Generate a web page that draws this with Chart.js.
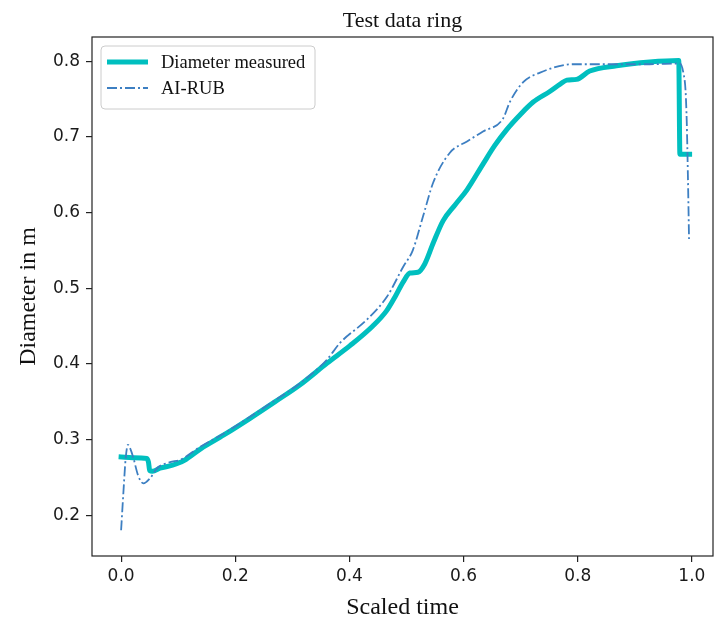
<!DOCTYPE html>
<html>
<head>
<meta charset="utf-8">
<title>Test data ring</title>
<script src="https://cdn.jsdelivr.net/npm/chart.js@4.4.1/dist/chart.umd.min.js"></script>
<style>
  html, body { margin: 0; padding: 0; background: #fff; }
  #wrap { width: 716px; height: 622px; position: relative; }
</style>
</head>
<body>
<div id="wrap"><canvas id="ringChart"></canvas></div>
<script>
// values
const measuredX = [0.000, 0.020, 0.045, 0.048, 0.050, 0.055, 0.068, 0.090, 0.110, 0.140,
  0.180, 0.226, 0.270, 0.313, 0.361, 0.401, 0.441, 0.465, 0.481, 0.494,
  0.506, 0.520, 0.532, 0.547, 0.564, 0.585, 0.606, 0.634, 0.655, 0.676,
  0.700, 0.722, 0.751, 0.770, 0.781, 0.798, 0.821, 0.868, 0.926, 0.977,
  0.979, 0.996];
const measuredY = [0.277, 0.276, 0.275, 0.270, 0.259, 0.258, 0.262, 0.266, 0.272, 0.288,
  0.306, 0.328, 0.350, 0.372, 0.401, 0.424, 0.450, 0.470, 0.490, 0.508,
  0.520, 0.521, 0.532, 0.560, 0.589, 0.610, 0.630, 0.664, 0.689, 0.710,
  0.730, 0.746, 0.760, 0.770, 0.775, 0.776, 0.787, 0.794, 0.799, 0.801,
  0.677, 0.677];

const aiRubX = [0.000, 0.004, 0.008, 0.012, 0.016, 0.021, 0.030, 0.039, 0.051, 0.063,
  0.086, 0.103, 0.138, 0.180, 0.226, 0.270, 0.313, 0.360, 0.384, 0.430,
  0.466, 0.494, 0.511, 0.529, 0.547, 0.576, 0.606, 0.634, 0.669, 0.681,
  0.704, 0.734, 0.792, 0.839, 0.926, 0.979, 0.985, 0.989, 0.991, 0.993,
  0.995];
const aiRubY = [0.180, 0.230, 0.275, 0.293, 0.288, 0.277, 0.252, 0.242, 0.249, 0.262,
  0.270, 0.273, 0.290, 0.308, 0.330, 0.352, 0.374, 0.405, 0.428, 0.458,
  0.489, 0.528, 0.550, 0.595, 0.640, 0.679, 0.694, 0.707, 0.724, 0.746,
  0.772, 0.785, 0.796, 0.796, 0.796, 0.797, 0.785, 0.760, 0.720, 0.650,
  0.565];

const xTicks = [0.0, 0.2, 0.4, 0.6, 0.8, 1.0];
const yTicks = [0.2, 0.3, 0.4, 0.5, 0.6, 0.7, 0.8];

const seriesNames = ["Diameter measured", "AI-RUB"];

const CYAN = "#00bfbf";
const BLUE = "#3d7fc2";
const DASHDOT = [10, 3, 2, 3];
const SERIF = "'Liberation Serif', 'Times New Roman', serif";

const toPoints = (xs, ys) => xs.map((x, i) => ({ x, y: ys[i] }));

// frame, title and in-plot legend (matplotlib style)
const decorPlugin = {
  id: "decor",
  afterDraw(chart) {
    const { ctx, chartArea: a } = chart;
    ctx.save();

    ctx.strokeStyle = "#222";
    ctx.lineWidth = 1.2;
    ctx.strokeRect(a.left, a.top, a.right - a.left, a.bottom - a.top);

    ctx.fillStyle = "#111";
    ctx.font = "22px " + SERIF;
    ctx.textAlign = "center";
    ctx.textBaseline = "alphabetic";
    ctx.fillText("Test data ring", (a.left + a.right) / 2, 27);

    // legend box
    const bx = 101, by = 46, bw = 214, bh = 63, r = 4;
    ctx.beginPath();
    ctx.roundRect(bx, by, bw, bh, r);
    ctx.fillStyle = "rgba(255,255,255,0.8)";
    ctx.fill();
    ctx.strokeStyle = "#cccccc";
    ctx.lineWidth = 1;
    ctx.stroke();

    const rows = [
      { y: 62, color: CYAN, width: 5, dash: [] },
      { y: 88, color: BLUE, width: 1.8, dash: DASHDOT }
    ];
    ctx.font = "18.5px " + SERIF;
    ctx.textAlign = "left";
    ctx.textBaseline = "middle";
    rows.forEach((row, i) => {
      ctx.beginPath();
      ctx.setLineDash(row.dash);
      ctx.strokeStyle = row.color;
      ctx.lineWidth = row.width;
      ctx.lineCap = "butt";
      ctx.moveTo(107, row.y);
      ctx.lineTo(148, row.y);
      ctx.stroke();
      ctx.setLineDash([]);
      ctx.fillStyle = "#111";
      ctx.fillText(seriesNames[i], 161, row.y + 1);
    });

    ctx.restore();
  }
};

const tickFont = { family: "'DejaVu Sans', sans-serif", size: 17 };

new Chart(document.getElementById("ringChart"), {
  type: "scatter",
  data: {
    datasets: [
      {
        label: seriesNames[0],
        data: toPoints(measuredX, measuredY),
        showLine: true,
        borderColor: CYAN,
        borderWidth: 5,
        borderCapStyle: "square",
        borderJoinStyle: "round",
        cubicInterpolationMode: "monotone",
        pointRadius: 0,
        order: 1
      },
      {
        label: seriesNames[1],
        data: toPoints(aiRubX, aiRubY),
        showLine: true,
        borderColor: BLUE,
        borderWidth: 1.8,
        borderDash: DASHDOT,
        cubicInterpolationMode: "monotone",
        pointRadius: 0,
        order: 0
      }
    ]
  },
  options: {
    responsive: true,
    maintainAspectRatio: false,
    animation: false,
    layout: { padding: { top: 37, right: 3, left: 0, bottom: 0 } },
    plugins: {
      legend: { display: false },
      tooltip: { enabled: false },
      title: { display: false }
    },
    scales: {
      x: {
        type: "linear",
        min: -0.051,
        max: 1.037,
        afterBuildTicks: s => { s.ticks = xTicks.map(v => ({ value: v })); },
        afterFit: s => { s.height = 66; },
        ticks: {
          font: tickFont,
          color: "#1a1a1a",
          padding: 4,
          maxRotation: 0,
          callback: v => v.toFixed(1)
        },
        grid: { drawOnChartArea: false, drawTicks: true, tickLength: 6, color: "#222", lineWidth: 1.2 },
        border: { display: false },
        title: {
          display: true,
          text: "Scaled time",
          color: "#111",
          font: { family: SERIF, size: 24 },
          padding: { top: 0, bottom: 0 }
        }
      },
      y: {
        type: "linear",
        min: 0.146,
        max: 0.832,
        afterBuildTicks: s => { s.ticks = yTicks.map(v => ({ value: v })); },
        afterFit: s => { s.width = 92; },
        ticks: {
          font: tickFont,
          color: "#1a1a1a",
          padding: 6,
          callback: v => v.toFixed(1)
        },
        grid: { drawOnChartArea: false, drawTicks: true, tickLength: 6, color: "#222", lineWidth: 1.2 },
        border: { display: false },
        title: {
          display: true,
          text: "Diameter in m",
          color: "#111",
          font: { family: SERIF, size: 24 },
          padding: { top: 14, bottom: 0 }
        }
      }
    }
  },
  plugins: [decorPlugin]
});
</script>
</body>
</html>
